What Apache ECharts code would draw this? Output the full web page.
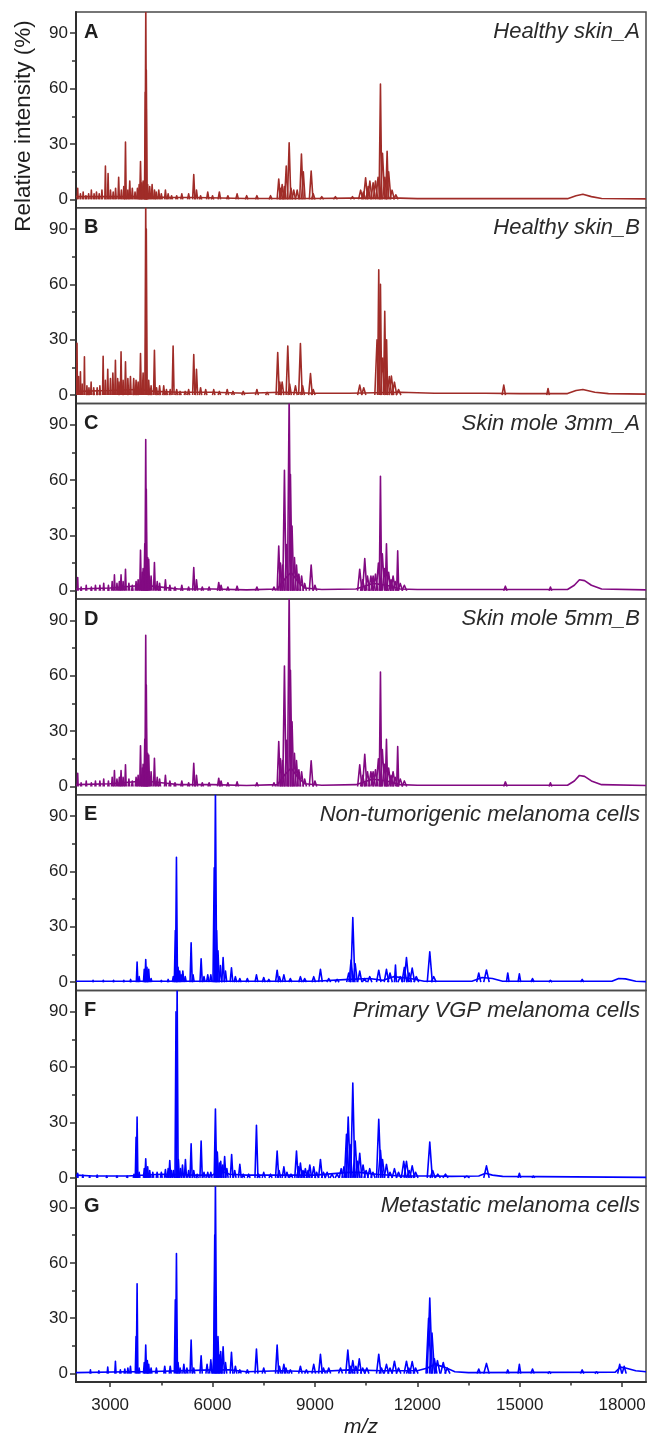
<!DOCTYPE html>
<html>
<head>
<meta charset="utf-8">
<title>MALDI-TOF spectra</title>
<script src="https://cdn.jsdelivr.net/npm/echarts@6/dist/echarts.min.js"></script>
<style>
  html, body { margin: 0; padding: 0; background: #fff; }
  #chart { width: 648px; height: 1439px; }
</style>
</head>
<body>
<div id="chart"></div>
<script>
// ---- Panel labels ----
const panelLetters = ['A', 'B', 'C', 'D', 'E', 'F', 'G'];
const panelTitles = [
  'Healthy skin_A',
  'Healthy skin_B',
  'Skin mole 3mm_A',
  'Skin mole 5mm_B',
  'Non-tumorigenic melanoma cells',
  'Primary VGP melanoma cells',
  'Metastatic melanoma cells'
];
const panelColors = ['#a02c28', '#a02c28', '#820a82', '#820a82', '#0000ff', '#0000ff', '#0000ff'];

// ---- Axis ticks ----
const xTickValues = [3000, 6000, 9000, 12000, 15000, 18000];
const xMinorTicks = [4500, 7500, 10500, 13500, 16500];
const yTickValues = [0, 30, 60, 90];
const yMinorTicks = [15, 45, 75];

// ---- Peaks: [m/z, relative intensity (%), optional half-width in m/z] ----
const peaksHealthyA = [
  [2050,6],[2130,3],[2210,4],[2290,2],[2370,3],[2450,5],[2530,3],[2600,4],[2680,3],[2760,5],
  [2862,18],[2940,14],[3010,5],[3090,4],[3160,6],[3250,12],[3330,5],[3400,7],[3450,31],[3520,5],
  [3575,10],[3650,6],[3730,4],[3800,6],[3850,8],[3890,20.5],[3930,9],[3967,10],[4030,58],[4045,105],
  [4060,70],[4100,8],[4160,7],[4230,8],[4300,5],[4350,4],[4425,5],[4500,3],[4620,5],[4700,3],
  [4800,2],[4950,2],[5100,3],[5300,3],[5450,13.5],[5530,5],[5650,2],[5860,4],[6000,2],[6200,4],
  [6450,2],[6720,3],[7000,2],[7300,2],[7700,2],[7940,11],[8000,6],[8040,8],[8107,7],[8160,18],
  [8245,30.6],[8300,6],[8380,5],[8480,5],[8605,24.6],[8660,15],[8890,15.3],[8950,3],[9200,1.5],
  [9600,1.5],[10100,1.5],[10340,5],[10420,4],[10485,11.7],[10560,7],[10610,9.9],[10705,9],
  [10775,10],[10850,12],[10920,62.5,40],[10980,25],[11050,12],[11115,26,40],[11160,15],[11260,5],
  [11370,2.5]
];
const baseHealthyA = [
  [2000,1.5],[3000,1.5],[4000,1.5],[4800,1],[5500,1],[7000,0.5],[9000,0.5],[10000,0.7],[11500,0.7],
  [12000,0.4],[16400,0.4],[16650,2],[16850,2.8],[17100,1.5],[17400,0.5],[18700,0.3]
];

const peaksHealthyB = [
  [2030,28],[2080,10],[2130,12.6],[2180,6],[2247,20.7],[2320,5],[2380,4],[2443,7],[2520,4],[2620,4],
  [2700,5],[2795,21],[2860,8],[2930,14],[3010,9],[3080,12],[3155,18.9],[3220,9],[3260,7],[3320,23.4],
  [3380,8],[3450,18],[3520,9],[3595,10],[3690,9],[3760,8],[3820,7],[3890,22.5],[3966,12],[4043,105],
  [4060,90],[4130,8],[4200,5],[4298,24.3],[4360,4],[4450,5],[4570,5],[4650,3],[4760,3],[4845,26.6],
  [4950,3],[5050,2],[5200,2],[5300,3],[5450,22],[5530,14],[5650,4],[5800,3],[6035,3],[6200,2],
  [6430,3],[6600,2],[6900,2],[7300,3],[7600,1.5],[7910,23],[7970,7],[8040,7],[8205,26.6],[8260,6],
  [8430,5],[8575,27.9],[8640,5],[8870,11.7],[8950,3],[10313,5.4],[10430,4],[10820,30],
  [10870,67.9,35],[10920,60,35],[10990,20],[11046,45.4,35],[11100,30,30],[11180,10],[11240,10.3],
  [11330,7],[11450,3],[14533,5.4,50],[15830,3.6,40]
];
const baseHealthyB = [
  [2000,2],[3000,2.5],[3800,3],[4300,2],[5000,1.5],[6000,1.5],[7000,1],[8000,1.5],[9000,1],
  [10000,1],[11500,1.5],[12500,1],[14000,1],[15000,0.8],[16400,0.8],[16650,2.5],[16850,3],
  [17200,1.5],[17600,0.8],[18700,0.5]
];

const peaksMole3mm = [
  [2050,7.2],[2150,2],[2300,3],[2450,2],[2570,3],[2700,3],[2812,4],[2950,3],[3060,5],[3126,8.6],
  [3200,4],[3270,5],[3320,8.6],[3380,5],[3450,11.7],[3550,4],[3650,3],[3760,5],[3820,6],[3890,22],
  [3940,10],[3967,12],[4015,25.5],[4043,81.9],[4060,55],[4100,18],[4131,17],[4200,8],[4298,15.3],
  [4380,5],[4450,4],[4620,6],[4750,3],[4900,2],[5100,3],[5300,2],[5450,12.6],[5530,6],[5700,2],
  [5900,2],[6182,4.5],[6250,3],[6450,2],[6720,2.5],[7300,2],[7800,2],[7940,24.3],[7990,15],
  [8050,14],[8107,65.3],[8166,25],[8245,105],[8283,63],[8330,35],[8400,18],[8460,14],[8530,9],
  [8610,8],[8700,4],[8890,13.9],[9000,3],[10313,11.7],[10400,6],[10460,17.4],[10540,8],[10640,8],
  [10705,8],[10775,9],[10860,15],[10920,62,35],[10975,20],[11040,12],[11096,25.5,35],[11160,10],
  [11230,6],[11290,8],[11350,5],[11425,21.6,30],[11500,4],[11620,3],[14580,2.5,50],[15900,2,40]
];
const baseMole3mm = [
  [2000,1],[3000,1.5],[4000,3],[4500,2],[5000,1],[6000,1],[7000,0.5],[7900,1],[8100,6],[8300,10],
  [8500,5],[8700,1.5],[9200,0.7],[10200,1],[10700,4],[11100,3],[11500,1],[12000,0.7],[16400,0.7],
  [16600,3],[16750,6],[16900,5.5],[17100,3],[17400,1],[18700,0.5]
];

// the 5 mm mole spectrum carries the same profile as the 3 mm one
const peaksMole5mm = peaksMole3mm.map(p => p.slice());
const baseMole5mm = baseMole3mm.map(p => p.slice());

const peaksNonTumor = [
  [2500,1],[2800,1],[3100,1],[3400,1],[3600,1.5],[3790,10.9],[3850,3],[4000,7],[4043,12.3],[4080,8],
  [4130,7],[4200,2],[4500,1],[4700,1.5],[4850,3],[4910,28],[4943,67.7],[4990,8],[5040,6],[5080,4],
  [5130,6],[5200,3],[5373,21.4],[5430,4],[5666,12.7],[5750,3],[5860,4],[5950,4],[6050,62],[6085,105],
  [6120,28],[6160,17],[6230,9],[6310,13.3],[6380,6],[6555,7.8],[6670,3],[6800,2],[7020,2],[7287,4],
  [7500,2.5],[7650,1.5],[7893,6.5],[7960,3],[8090,4],[8280,2],[8575,3],[8700,2],[8965,3],[9162,7],
  [9405,2],[9650,1.5],[9990,5],[10060,12],[10110,35],[10180,10],[10313,6],[10450,2],[10606,3],
  [10870,6.5],[11096,7],[11200,5],[11360,9.3,30],[11500,3],[11620,8],[11682,13.3],[11760,5],
  [11850,7.6],[11970,3],[12365,16.5],[12480,3],[13800,5,60],[14026,6.6,80],[14650,5,40],
  [14990,4.5,40],[15375,2,50],[15900,1,50],[16830,1.5,50]
];
const baseNonTumor = [
  [2000,0.5],[9000,0.5],[10000,1.5],[10600,2],[11000,1],[11300,3],[11800,2],[12200,0.5],[13600,0.5],
  [13900,2.5],[14200,2],[14500,0.5],[17700,0.5],[17900,2],[18100,1.8],[18400,0.5],[18700,0.3]
];

const peaksPrimaryVGP = [
  [2050,2.5],[2200,1.5],[2400,1],[2620,1.5],[2900,1],[3200,1],[3500,1],[3700,2],[3760,22],[3790,33],
  [3850,3],[4000,5],[4043,10.4],[4100,6],[4160,4],[4250,3],[4376,3],[4500,3],[4620,4.5],[4700,5],
  [4747,9.4],[4800,4],[4860,4],[4930,90],[4963,105],[5000,10],[5060,5],[5120,7],[5206,10],[5300,4],
  [5373,18.5],[5450,4],[5550,2],[5666,20],[5750,3],[5860,3],[5950,3],[6085,37.3],[6110,15],[6140,14],
  [6200,8],[6240,9],[6300,7],[6355,11.5],[6420,5],[6560,12.7],[6650,4],[6800,7.3],[6900,2],[7060,2],
  [7287,28.5],[7350,2],[7500,3],[7700,2],[7893,14.5],[7950,4],[8090,6],[8180,3],[8300,2],[8460,14.5],
  [8520,6],[8575,8],[8650,4],[8720,5],[8800,4],[8850,7],[8965,6],[9050,3],[9162,10],[9250,3],
  [9357,3],[9500,2],[9650,2],[9770,5],[9850,6],[9925,23.6],[9975,33],[10030,18],[10110,51.4],
  [10180,20],[10250,9],[10313,13.3],[10410,7],[10500,4],[10606,5],[10700,3],[10870,31.8],[10920,15],
  [10980,10],[11096,7.3],[11200,3],[11330,5],[11450,3],[11602,9],[11682,9],[11760,4],[11850,6.5],
  [11950,3],[12365,19.4],[12450,4],[12600,2],[12825,2],[13450,1],[14026,6.5,80],[14990,2.5,40],
  [15400,1,40]
];
const basePrimaryVGP = [
  [2000,1.5],[2500,1],[3500,1],[4500,2],[5500,1.5],[6000,1.5],[6200,4],[6500,2],[7000,1.5],[8000,1.5],
  [9000,1.5],[10000,3],[10300,3],[10800,2],[11500,1],[12500,1],[13000,0.8],[13800,1],[14000,2.5],
  [14200,1.5],[14500,0.8],[18700,0.3]
];

const peaksMetastatic = [
  [2423,2],[2670,1.5],[2930,3.5],[3155,6.7],[3300,2],[3430,2.5],[3520,3],[3595,4],[3760,20],[3790,48.7],
  [3850,3],[4000,6],[4043,15.5],[4090,7],[4130,5],[4200,3],[4355,3],[4600,4],[4760,4],[4910,40],
  [4943,65],[4990,6],[5050,3],[5160,5],[5250,3],[5373,18.2],[5450,3],[5666,9.6],[5840,5],[5950,7.5],
  [6040,10],[6065,75],[6085,105],[6120,20],[6160,20],[6200,10],[6240,12],[6310,14.5],[6380,6],
  [6555,11.5],[6670,4],[6800,2],[7020,2],[7287,13.3],[7500,3],[7893,15.5],[7960,4],[8090,5],[8150,3],
  [8280,2],[8575,4],[8750,2],[8965,5],[9162,10.4],[9250,3],[9405,3],[9750,3],[9964,12.7],[10050,4],
  [10110,7],[10200,4],[10300,8],[10400,3],[10520,3],[10870,10.5],[10950,3],[11096,5],[11200,3],
  [11330,6.7],[11450,3],[11682,6.7],[11750,3],[11850,6.5],[11950,3],[12330,30],[12365,40.9],
  [12430,22],[12500,8],[12590,7],[12760,6],[12880,3],[13800,2.5,50],[14026,5.5,80],[14650,2,40],
  [14990,5,40],[15375,2.5,50],[15870,1,50],[16830,2,50],[17250,1,50],[17930,5,60],[18060,4,60]
];
const baseMetastatic = [
  [2000,0.5],[3500,1],[4000,1],[6000,2],[6500,2],[7000,1],[8000,1.5],[9000,1],[10000,2],[11000,1.5],
  [12000,1.5],[12300,3],[12500,5],[12800,3.5],[13100,1],[13500,0.5],[17800,0.8],[17950,3.5],
  [18100,3],[18400,1.5],[18700,1]
];

const panelPeaks = [peaksHealthyA, peaksHealthyB, peaksMole3mm, peaksMole5mm, peaksNonTumor, peaksPrimaryVGP, peaksMetastatic];
const panelBase = [baseHealthyA, baseHealthyB, baseMole3mm, baseMole5mm, baseNonTumor, basePrimaryVGP, baseMetastatic];

// ---- Layout ----
const FONT = "'Liberation Sans', Arial, Helvetica, sans-serif";
const GRID_LEFT = 76, GRID_WIDTH = 570, TOP = 12, PANEL_H = 195.7;
const X_MIN = 2000, X_MAX = 18700, Y_MIN = -4.5, Y_MAX = 101.5;
const PEAK_REL_WIDTH = 0.006;   // default half-width of a peak, as a fraction of m/z
const LINE_W = 1.6;

function renderPeak(params, api) {
  const x = api.value(0), h = api.value(1);
  const w = api.value(2) || x * PEAK_REL_WIDTH;
  const a = api.coord([x - w, 0]);
  const t = api.coord([x, h]);
  const b = api.coord([x + w, 0]);
  return {
    type: 'polyline',
    shape: { points: [a, t, b] },
    style: { stroke: api.visual('color'), fill: null, lineWidth: LINE_W, lineJoin: 'round' }
  };
}

const grids = [], xAxes = [], yAxes = [], series = [], graphics = [];
const n = panelTitles.length;
for (let i = 0; i < n; i++) {
  const top = TOP + i * PANEL_H;
  const last = i === n - 1;
  grids.push({
    left: GRID_LEFT, width: GRID_WIDTH, top: top, height: PANEL_H,
    outerBoundsMode: 'none',
    show: true, borderColor: '#4a4a4a', borderWidth: 1.5, backgroundColor: 'transparent'
  });
  // main x axis
  xAxes.push({
    type: 'value', gridIndex: i, position: 'bottom', min: X_MIN, max: X_MAX,
    axisLine: { show: last, onZero: false, lineStyle: { color: '#333', width: 2 } },
    axisTick: { show: last, customValues: xTickValues, length: 5, lineStyle: { color: '#333', width: 1.5 } },
    axisLabel: {
      show: last, customValues: xTickValues, margin: 15, color: '#1e1e1e', fontSize: 17, fontFamily: FONT,
      formatter: v => String(v)
    },
    splitLine: { show: false },
    name: last ? 'm/z' : '', nameLocation: 'middle', nameGap: 35,
    nameTextStyle: { fontSize: 21, fontStyle: 'italic', color: '#1e1e1e', fontFamily: FONT }
  });
  // minor x ticks
  xAxes.push({
    type: 'value', gridIndex: i, position: 'bottom', min: X_MIN, max: X_MAX,
    axisLine: { show: false, onZero: false },
    axisTick: { show: last, customValues: xMinorTicks, length: 3.5, lineStyle: { color: '#333', width: 1.5 } },
    axisLabel: { show: false }, splitLine: { show: false }
  });
  // main y axis
  yAxes.push({
    type: 'value', gridIndex: i, position: 'left', min: Y_MIN, max: Y_MAX,
    axisLine: { show: true, onZero: false, lineStyle: { color: '#2e2e2e', width: 2 } },
    axisTick: { show: true, customValues: yTickValues, length: 6, lineStyle: { color: '#333', width: 1.5 } },
    axisLabel: { show: true, customValues: yTickValues, margin: 8, color: '#1e1e1e', fontSize: 17, fontFamily: FONT },
    splitLine: { show: false }
  });
  // minor y ticks
  yAxes.push({
    type: 'value', gridIndex: i, position: 'left', min: Y_MIN, max: Y_MAX,
    axisLine: { show: false, onZero: false },
    axisTick: { show: true, customValues: yMinorTicks, length: 4, lineStyle: { color: '#333', width: 1.5 } },
    axisLabel: { show: false }, splitLine: { show: false }
  });

  const color = panelColors[i];
  series.push({
    type: 'line', xAxisIndex: 2 * i, yAxisIndex: 2 * i,
    data: panelBase[i], showSymbol: false, symbol: 'none', silent: true,
    lineStyle: { color: color, width: LINE_W }, itemStyle: { color: color },
    clip: true, z: 2
  });
  series.push({
    type: 'custom', xAxisIndex: 2 * i, yAxisIndex: 2 * i,
    data: panelPeaks[i].map(p => [p[0], p[1], p[2] || 0]),
    dimensions: ['mz', 'intensity', 'halfWidth'],
    encode: { x: 0, y: 1 },
    renderItem: renderPeak, itemStyle: { color: color },
    clip: true, silent: true, z: 3
  });

  graphics.push({
    type: 'text', left: 84, top: top + 10,
    style: { text: panelLetters[i], font: `bold 20px ${FONT}`, fill: '#1e1e1e' }
  });
  graphics.push({
    type: 'text', x: 640, y: top + 20,
    style: { text: panelTitles[i], font: `italic 22px ${FONT}`, fill: '#2a2a2a', align: 'right', verticalAlign: 'middle' }
  });
}

graphics.push({
  type: 'text', x: 24, y: 126, rotation: Math.PI / 2,
  style: { text: 'Relative intensity (%)', font: `22.5px ${FONT}`, fill: '#1e1e1e', align: 'center', verticalAlign: 'middle' }
});

const chart = echarts.init(document.getElementById('chart'), null, { renderer: 'canvas' });
chart.setOption({
  animation: false,
  backgroundColor: '#ffffff',
  grid: grids,
  xAxis: xAxes,
  yAxis: yAxes,
  series: series,
  graphic: graphics
});
</script>
</body>
</html>
